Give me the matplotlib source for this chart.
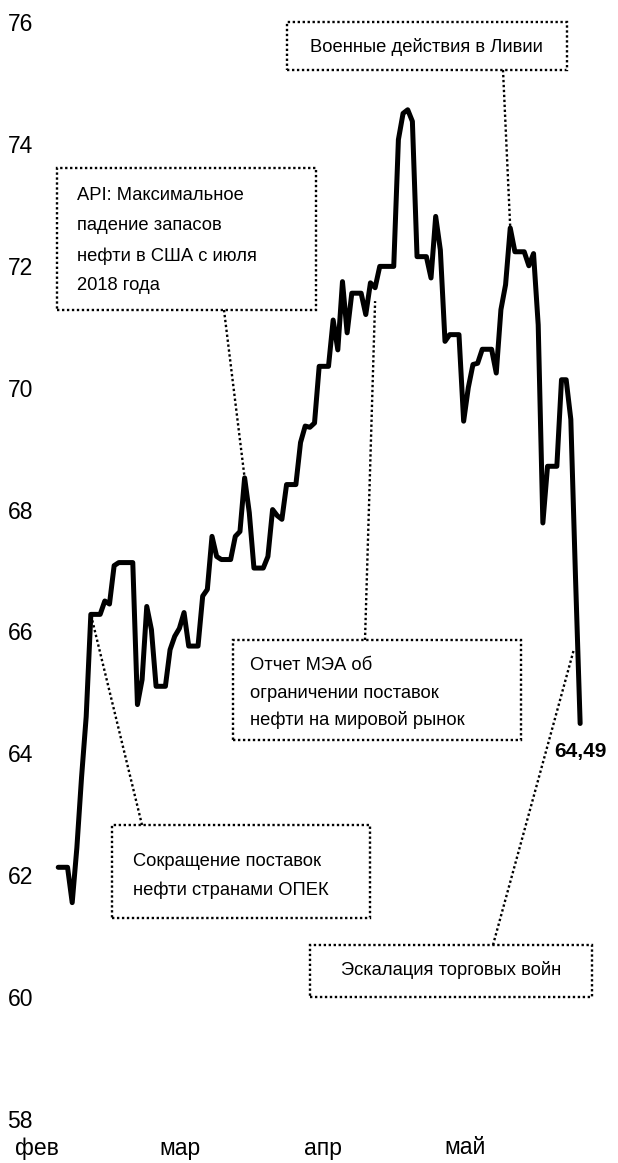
import matplotlib
matplotlib.use("Agg")
import matplotlib.pyplot as plt
from matplotlib import font_manager as fm
from matplotlib.patches import Rectangle
from matplotlib.lines import Line2D
import matplotlib.transforms as mtrans
import pandas as pd

# ---------------- data ----------------
trade_dates = [
    "2019-02-08", "2019-02-11", "2019-02-12", "2019-02-13", "2019-02-14", "2019-02-15",
    "2019-02-18", "2019-02-19", "2019-02-20", "2019-02-21", "2019-02-22",
    "2019-02-25", "2019-02-26", "2019-02-27", "2019-02-28", "2019-03-01",
    "2019-03-04", "2019-03-05", "2019-03-06", "2019-03-07", "2019-03-08",
    "2019-03-11", "2019-03-12", "2019-03-13", "2019-03-14", "2019-03-15",
    "2019-03-18", "2019-03-19", "2019-03-20", "2019-03-21", "2019-03-22",
    "2019-03-25", "2019-03-26", "2019-03-27", "2019-03-28", "2019-03-29",
    "2019-04-01", "2019-04-02", "2019-04-03", "2019-04-04", "2019-04-05",
    "2019-04-08", "2019-04-09", "2019-04-10", "2019-04-11", "2019-04-12",
    "2019-04-15", "2019-04-16", "2019-04-17", "2019-04-18",
    "2019-04-22", "2019-04-23", "2019-04-24", "2019-04-25", "2019-04-26",
    "2019-04-29", "2019-04-30", "2019-05-01", "2019-05-02", "2019-05-03",
    "2019-05-06", "2019-05-07", "2019-05-08", "2019-05-09", "2019-05-10",
    "2019-05-13", "2019-05-14", "2019-05-15", "2019-05-16", "2019-05-17",
    "2019-05-20", "2019-05-21", "2019-05-22", "2019-05-23", "2019-05-24",
    "2019-05-27", "2019-05-28", "2019-05-29", "2019-05-30", "2019-05-31",
]
brent = [
    62.13, 61.55, 62.45, 63.60, 64.60, 66.28,
    66.50, 66.45, 67.08, 67.13, 67.13,
    64.80, 65.21, 66.41, 66.03, 65.10,
    65.70, 65.92, 66.05, 66.31, 65.76,
    66.58, 66.69, 67.56, 67.23, 67.18,
    67.56, 67.64, 68.52, 67.95, 67.04,
    67.23, 68.00, 67.90, 67.84, 68.41,
    69.10, 69.37, 69.35, 69.42, 70.35,
    71.11, 70.62, 71.74, 70.90, 71.55,
    71.20, 71.72, 71.64, 71.99,
    74.07, 74.50, 74.56, 74.37, 72.15,
    71.80, 72.81, 72.26, 70.76, 70.87,
    69.45, 70.00, 70.38, 70.40, 70.63,
    70.24, 71.28, 71.69, 72.62, 72.23,
    72.00, 72.20, 71.03, 67.78, 68.71,
    70.13, 70.13, 69.48, 66.90, 64.49,
]
y_ticks = [58, 60, 62, 64, 66, 68, 70, 72, 74, 76]
month_starts = ["2019-02-01", "2019-03-01", "2019-04-01", "2019-05-01"]
month_labels = ["фев", "мар", "апр", "май"]
last_label = "64,49"

notes = {
    "libya": ["Военные действия в Ливии"],
    "api": ["API: Максимальное", "падение запасов", "нефти в США с июля", "2018 года"],
    "iea": ["Отчет МЭА об", "ограничении поставок", "нефти на мировой рынок"],
    "opec": ["Сокращение поставок", "нефти странами ОПЕК"],
    "trade": ["Эскалация торговых войн"],
}

# ---------------- fonts ----------------
def pick(fams):
    for f in fams:
        try:
            fm.findfont(fm.FontProperties(family=f), fallback_to_default=False)
            return f
        except Exception:
            pass
    return "DejaVu Sans"

FONT = pick(["Liberation Sans Narrow", "Arial Narrow", "Liberation Sans", "Arial"])
plt.rcParams["font.family"] = [FONT, "DejaVu Sans"]

# ---------------- series ----------------
s = pd.Series(brent, index=pd.to_datetime(trade_dates))
daily = s.asfreq("D", method="ffill")
origin = pd.Timestamp("2019-02-01")
xd = (daily.index - origin).days.values
yd = daily.values

W, H = 618, 1163
fig = plt.figure(figsize=(W / 100, H / 100), dpi=100)

def fx(px):
    return px / W

def fy(py):
    return 1 - py / H

# axis geometry (pixels)
PX0, PXD = 25.6, 4.66          # x pixel of day 0 and pixels per day
ax_l, ax_r = 45, 618
ax_t, ax_b = 22, 1119
ax = fig.add_axes([fx(ax_l), fy(ax_b), fx(ax_r - ax_l), (ax_b - ax_t) / H])

ax.plot(xd, yd, color="black", lw=3.6, solid_joinstyle="round",
        solid_capstyle="round", clip_on=False, zorder=3)

for sp in ax.spines.values():
    sp.set_visible(False)
ax.set_yticks(y_ticks)
ax.set_yticklabels([str(v) for v in y_ticks])
ax.tick_params(axis="y", length=0, pad=8.6, labelsize=16.5)
ax.set_xticks([])
ax.set_xlim((ax_l - PX0) / PXD, (ax_r - PX0) / PXD)
ax.set_ylim(58, 76)

# month labels (below the plot area)
lab_off = [2.4, 5.1, 4.8, 5.3]
blend = mtrans.blended_transform_factory(ax.transData, fig.transFigure)
for m, lab, off in zip(month_starts, month_labels, lab_off):
    d = (pd.Timestamp(m) - origin).days + off
    ax.text(d, fy(1148), lab, transform=blend, ha="center", va="center",
            fontsize=16.5, clip_on=False)

# ---------------- annotations ----------------
DOT = dict(color="black", lw=1.7, linestyle=(0, (1.0, 1.1)))

def box(x0, y0, x1, y1):
    r = Rectangle((fx(x0), fy(y1)), fx(x1 - x0), (y1 - y0) / H,
                  transform=fig.transFigure, fill=False, **DOT)
    fig.add_artist(r)

def leader(p0, date=None, val=None, p1=None):
    if date is not None:
        dx = (pd.Timestamp(date) - origin).days
        x1, y1 = ax.transData.transform((dx, val))
        x1f, y1f = fig.transFigure.inverted().transform((x1, y1))
    else:
        x1f, y1f = fx(p1[0]), fy(p1[1])
    fig.add_artist(Line2D([fx(p0[0]), x1f], [fy(p0[1]), y1f],
                          transform=fig.transFigure, **DOT))

def lines(x, ys, texts, ha="left", size=13.2):
    for yy, t in zip(ys, texts):
        fig.text(fx(x), fy(yy), t, ha=ha, va="center", fontsize=size)

# Libya
box(287, 22, 567, 70)
lines(426, [47], notes["libya"], ha="center")
leader((503, 70), "2019-05-16", s["2019-05-16"])

# API
box(57, 168, 316, 310)
lines(77, [196, 226, 256, 286], notes["api"])
leader((224, 310), "2019-03-20", s["2019-03-20"])

# IEA
box(233, 640, 521, 740)
lines(250, [665, 693, 720], notes["iea"])
leader((365, 640), "2019-04-17", s["2019-04-17"] - 0.22)

# OPEC
box(112, 825, 370, 918)
lines(133, [861, 890], notes["opec"])
leader((142, 825), "2019-02-15", s["2019-02-15"])

# trade war
box(310, 945, 592, 997)
lines(451, [970], notes["trade"], ha="center")
leader((493, 945), p1=(574, 649))

# last value label
lx = (pd.Timestamp(trade_dates[-1]) - origin).days
ax.annotate(last_label, xy=(lx, brent[-1]), xytext=(0, -20.5), textcoords="offset points",
            ha="center", va="center", fontsize=15, fontweight="bold")

fig.savefig("out.png", dpi=100)
